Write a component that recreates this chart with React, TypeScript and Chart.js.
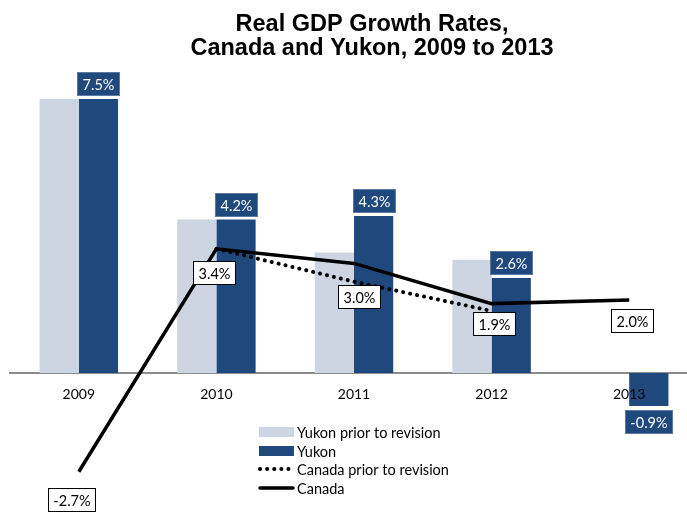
import React, { useEffect, useRef } from 'react';
import { Chart, registerables } from 'chart.js';

Chart.register(...registerables);

// ---- data ----
const categories = ['2009', '2010', '2011', '2012', '2013'];
const yukonPrior: (number | null)[] = [7.5, 4.2, 3.3, 3.1, null];
const yukon: (number | null)[] = [7.5, 4.2, 4.3, 2.6, -0.9];
const canadaPrior: (number | null)[] = [null, 3.4, 2.5, 1.7, null];
const canada: (number | null)[] = [-2.7, 3.4, 3.0, 1.9, 2.0];
const titleLines = ['Real GDP Growth Rates,', 'Canada and Yukon, 2009 to 2013'];
const seriesNames = ['Yukon prior to revision', 'Yukon', 'Canada prior to revision', 'Canada'];

// label offsets for Canada value boxes (styling only)
const canadaLabelOffsets = [
  [-7, 28],
  [-2, 24],
  [5, 33],
  [2, 20],
  [3, 21],
];

const LIGHT = '#CDD5E2';
const DARK = '#1F497D';
const FONT = 'Lato, "Noto Sans", sans-serif';

if (typeof document !== 'undefined') {
  document.body.style.margin = '0';
}

function drawBox(ctx: CanvasRenderingContext2D, cx: number, cy: number, text: string, fill: string, stroke: string, color: string) {
  const w = Math.round(ctx.measureText(text).width + 10);
  const h = 23;
  const x = Math.round(cx - w / 2) + 0.5;
  const y = Math.round(cy - h / 2) + 0.5;
  ctx.fillStyle = fill;
  ctx.fillRect(x, y, w, h);
  ctx.lineWidth = 1;
  ctx.strokeStyle = stroke;
  ctx.setLineDash([]);
  ctx.strokeRect(x, y, w, h);
  ctx.fillStyle = color;
  ctx.fillText(text, x + w / 2, y + h / 2 + 1);
}

const labelPlugin = {
  id: 'valueLabels',
  afterDatasetsDraw(chart: any) {
    const ctx: CanvasRenderingContext2D = chart.ctx;
    ctx.save();
    ctx.font = `14.5px ${FONT}`;
    ctx.textAlign = 'center';
    ctx.textBaseline = 'middle';
    const barMeta = chart.getDatasetMeta(1);
    barMeta.data.forEach((el: any, i: number) => {
      const v = yukon[i];
      if (v == null) return;
      const h = 23;
      const cy = v >= 0 ? el.y - 4 - h / 2 : el.y + 4 + h / 2;
      drawBox(ctx, el.x, cy, v.toFixed(1) + '%', DARK, '#5a7aa3', '#ffffff');
    });
    const lineMeta = chart.getDatasetMeta(3);
    lineMeta.data.forEach((el: any, i: number) => {
      const v = canada[i];
      if (v == null) return;
      const [dx, dy] = canadaLabelOffsets[i];
      drawBox(ctx, el.x + dx, el.y + dy, v.toFixed(1) + '%', '#ffffff', '#000000', '#000000');
    });
    ctx.restore();
  },
};

const titlePlugin = {
  id: 'customTitle',
  afterDraw(chart: any) {
    const ctx: CanvasRenderingContext2D = chart.ctx;
    ctx.save();
    ctx.font = `bold 23.5px "Liberation Sans", Arial, sans-serif`;
    ctx.fillStyle = '#000';
    ctx.textAlign = 'center';
    ctx.textBaseline = 'middle';
    ctx.fillText(titleLines[0], 372, 25);
    ctx.fillText(titleLines[1], 372, 49);
    ctx.restore();
  },
};

const legendPlugin = {
  id: 'customLegend',
  afterDraw(chart: any) {
    const ctx: CanvasRenderingContext2D = chart.ctx;
    const ds = chart.data.datasets;
    ctx.save();
    ctx.font = `14.5px ${FONT}`;
    ctx.textAlign = 'left';
    ctx.textBaseline = 'middle';
    const x0 = 259;
    const x1 = 294;
    const rows = [432, 451, 469, 488];
    ds.forEach((d: any, i: number) => {
      const y = rows[i];
      if (d.type === 'bar') {
        ctx.fillStyle = d.backgroundColor;
        ctx.fillRect(x0, y - 5, x1 - x0, 10);
      } else {
        ctx.strokeStyle = d.borderColor;
        ctx.lineWidth = d.borderWidth;
        ctx.lineCap = 'round';
        ctx.setLineDash(d.borderDash || []);
        ctx.beginPath();
        ctx.moveTo(x0 + 1, y);
        ctx.lineTo(x1 - 1, y);
        ctx.stroke();
        ctx.setLineDash([]);
      }
      ctx.fillStyle = '#000';
      ctx.fillText(seriesNames[i], 297, y + 1);
    });
    ctx.restore();
  },
};

export default function App() {
  const ref = useRef<HTMLCanvasElement | null>(null);
  useEffect(() => {
    if (!ref.current) return;
    const chart = new Chart(ref.current, {
      data: {
        labels: categories,
        datasets: [
          {
            type: 'bar',
            label: seriesNames[0],
            data: yukonPrior,
            backgroundColor: LIGHT,
            borderWidth: 0,
            order: 2,
            barPercentage: 1,
            categoryPercentage: 0.57,
          },
          {
            type: 'bar',
            label: seriesNames[1],
            data: yukon,
            backgroundColor: DARK,
            borderWidth: 0,
            order: 3,
            barPercentage: 1,
            categoryPercentage: 0.57,
          },
          {
            type: 'line',
            label: seriesNames[2],
            data: canadaPrior,
            borderColor: '#000',
            borderWidth: 4,
            borderDash: [0.1, 7],
            borderCapStyle: 'round',
            pointRadius: 0,
            tension: 0,
            fill: false,
            order: 1,
          },
          {
            type: 'line',
            label: seriesNames[3],
            data: canada,
            borderColor: '#000',
            borderWidth: 3.5,
            pointRadius: 0,
            tension: 0,
            fill: false,
            order: 0,
          },
        ] as any,
      },
      options: {
        responsive: false,
        animation: false,
        layout: { padding: { left: 10, right: 2, top: 66, bottom: 0 } },
        plugins: {
          legend: { display: false },
          title: { display: false },
          tooltip: { enabled: false },
        },
        scales: {
          x: {
            position: { y: 0 } as any,
            grid: { display: false, drawTicks: false },
            border: { display: true, color: '#8C8C8C', width: 2 },
            ticks: { color: '#000', font: { family: FONT, size: 14 }, padding: 13, z: 1 } as any,
          },
          y: {
            display: false,
            min: -3.8,
            max: 8.4,
          },
        },
      },
      plugins: [labelPlugin, titlePlugin, legendPlugin],
    });
    return () => chart.destroy();
  }, []);
  return (
    <div style={{ width: 687, height: 512, overflow: 'hidden', background: '#fff' }}>
      <canvas ref={ref} width={700} height={512} style={{ display: 'block', width: 700, height: 512 }} />
    </div>
  );
}
